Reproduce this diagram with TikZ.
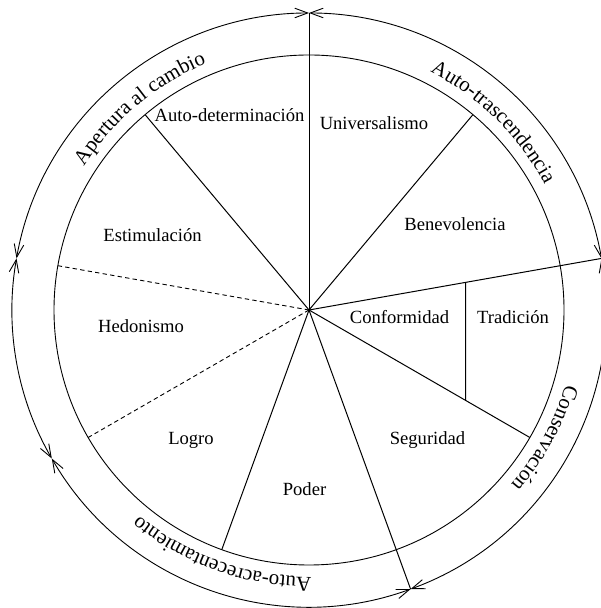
\documentclass[tikz,border=0pt]{standalone}
\usepackage{fontspec}
\setmainfont{Liberation Serif}
\usetikzlibrary{arrows.meta,decorations.text}
\newcommand\outerfnt{\fontsize{10.5}{12}\selectfont}
\newcommand\innerfnt{\fontsize{9.3}{11}\selectfont}
\tikzset{
  radial/.style={line width=0.5pt},
  ring/.style={line width=0.45pt},
  dashedradial/.style={line width=0.45pt, dash pattern=on 2.2pt off 1.6pt},
  ringarrow/.style={line width=0.45pt, {Straight Barb[length=6.5pt,width=4.8pt]}-{Straight Barb[length=6.5pt,width=4.8pt]}},
  lbl/.style={font=\innerfnt, anchor=base, inner sep=0pt},
  arctext/.style={decorate, decoration={text along path, text align=center, text={|\outerfnt|#1}}}
}
\begin{document}
\begin{tikzpicture}[x=0.5pt,y=0.5pt]
\useasboundingbox (0,0) rectangle (600,608);
\begin{scope}[shift={(309,298)}]
  \coordinate (O) at (0,0);
  % endpoints
  \coordinate (p90) at (90:297);
  \coordinate (p130) at (130:255);
  \coordinate (p50) at (50:255);
  \coordinate (p10) at (10:297);
  \coordinate (pm30) at (-30:255);
  \coordinate (pm70) at (-70:297);
  \coordinate (pm110) at (-110:255);
  \coordinate (pm150) at (-150:255);
  \coordinate (p170) at (170:255);
  \coordinate (tA) at (10:159.1);
  \coordinate (tB) at (-30:180.9);
  % inner circle
  \draw[ring] (O) circle[radius=255];
  % outer arrows
  \draw[ringarrow] (170:297) arc[start angle=170, end angle=90, radius=297];
  \draw[ringarrow] (90:297) arc[start angle=90, end angle=10, radius=297];
  \draw[ringarrow] (10:297) arc[start angle=10, end angle=-70, radius=297];
  \draw[ringarrow] (-70:297) arc[start angle=-70, end angle=-150, radius=297];
  \draw[ringarrow] (-150:297) arc[start angle=-150, end angle=-190, radius=297];
  % radial lines
  \draw[radial] (O) -- (p90);
  \draw[radial] (O) -- (p130);
  \draw[radial] (O) -- (p50);
  \draw[radial] (O) -- (p10);
  \draw[radial] (O) -- (pm30);
  \draw[radial] (O) -- (pm70);
  \draw[radial] (O) -- (pm110);
  \draw[dashedradial] (O) -- (pm150);
  \draw[dashedradial] (O) -- (p170);
  \draw[ring] (tA) -- (tB);
  % outer texts
  \path[arctext={Apertura al cambio}] (160:267) arc[start angle=160, end angle=100, radius=267];
  \path[arctext={Auto-trascendencia}] (75.5:267) arc[start angle=75.5, end angle=15.5, radius=267];
  \path[arctext={Conservación}] (1.5:267) arc[start angle=1.5, end angle=-58.5, radius=267];
  \path[arctext={Auto-acrecentamiento}] (-79.5:267) arc[start angle=-79.5, end angle=-139.5, radius=267];
\end{scope}
% inner labels (page coordinates)
\node[lbl] (autodet) at (229.5,486) {Auto-determinación};
\node[lbl] (univ) at (374,478.7) {Universalismo};
\node[lbl] (bene) at (455,377) {Benevolencia};
\node[lbl] (estim) at (152.5,366.3) {Estimulación};
\node[lbl] (hedo) at (141,275.7) {Hedonismo};
\node[lbl] (conf) at (399.5,284) {Conformidad};
\node[lbl] (trad) at (513,284) {Tradición};
\node[lbl] (logro) at (191,163) {Logro};
\node[lbl] (segu) at (427.5,163) {Seguridad};
\node[lbl] (poder) at (304.5,112) {Poder};
\end{tikzpicture}
\end{document}
